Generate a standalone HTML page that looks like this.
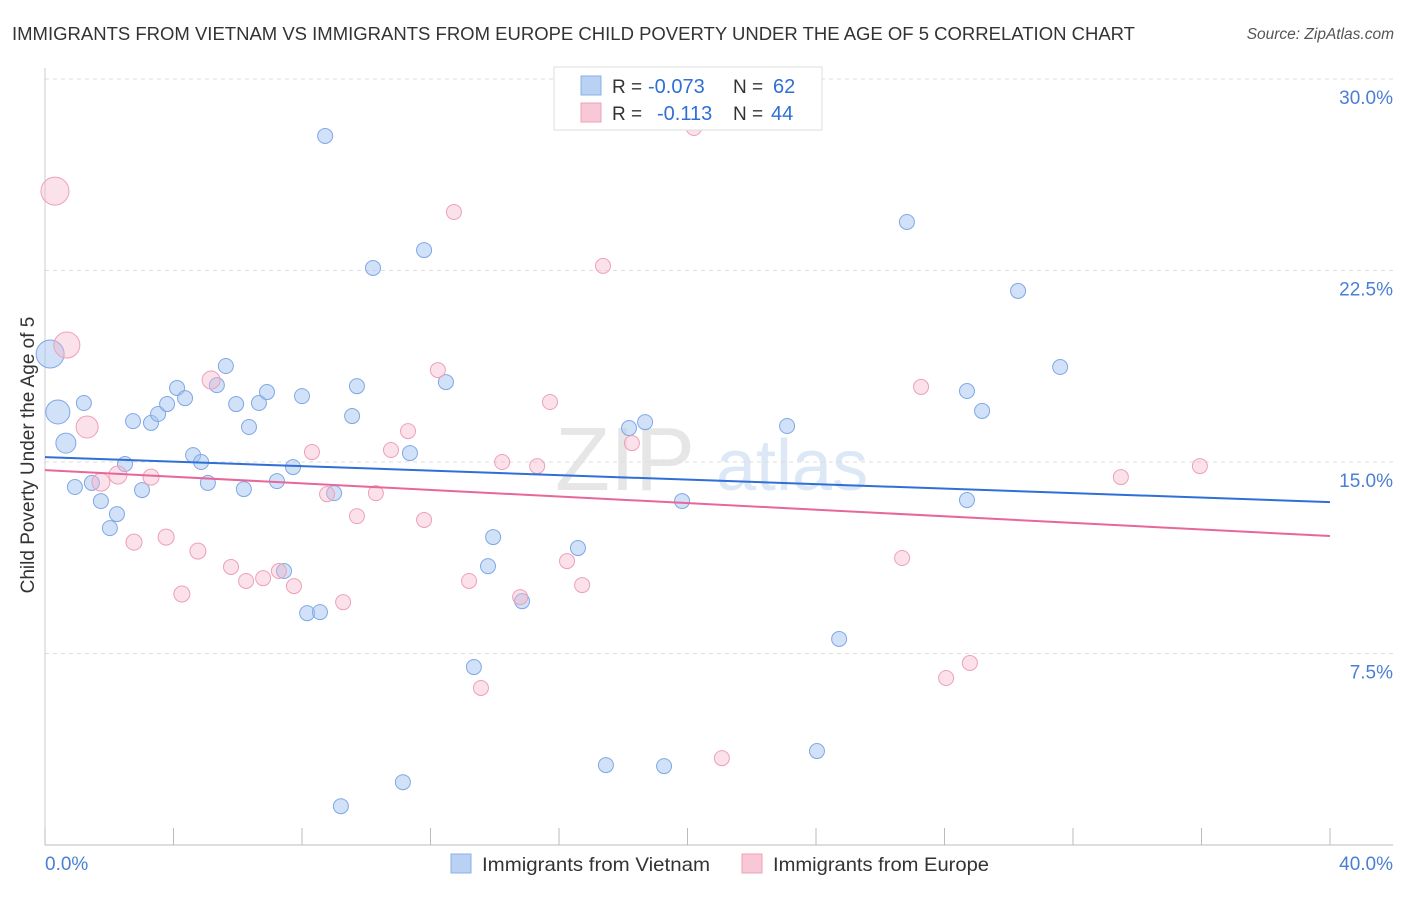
<!DOCTYPE html>
<html><head><meta charset="utf-8">
<style>
body{margin:0;background:#fff;font-family:"Liberation Sans",sans-serif;}
svg text{font-family:"Liberation Sans",sans-serif;}
</style></head>
<body>
<svg id="chart" width="1406" height="892" viewBox="0 0 1406 892" xmlns="http://www.w3.org/2000/svg">
<text x="12" y="40" font-size="18" fill="#333" textLength="1123" lengthAdjust="spacingAndGlyphs">IMMIGRANTS FROM VIETNAM VS IMMIGRANTS FROM EUROPE CHILD POVERTY UNDER THE AGE OF 5 CORRELATION CHART</text>
<text x="1394" y="39" font-size="15.5" fill="#555" font-style="italic" text-anchor="end">Source: ZipAtlas.com</text>
<g>
<text x="555" y="490" font-size="90" fill="#e6e6e6" font-family="Liberation Serif">ZIP</text>
<text x="716" y="490" font-size="72" fill="#dce8f6">atlas</text>
</g>
<g id="grid"></g>
<g id="axes"></g>
<g id="points"></g>
<g id="trends"></g>
<text x="34" y="455" font-size="19" fill="#333" text-anchor="middle" transform="rotate(-90 34 455)">Child Poverty Under the Age of 5</text>
<text x="45" y="870" font-size="19" fill="#4a7fd4">0.0%</text>
<text x="1393" y="870" font-size="19" fill="#4a7fd4" text-anchor="end">40.0%</text>
<g>
<rect x="554" y="67" width="268" height="63" fill="#fff" stroke="#ddd"/>
<rect x="581" y="76" width="20" height="19" fill="#b9d1f3" stroke="#8ab0e8"/>
<rect x="581" y="103" width="20" height="19" fill="#f9c8d6" stroke="#f0a0b8"/>
<text x="612" y="93" font-size="19" fill="#333">R =</text>
<text x="648" y="93" font-size="20" fill="#2f6fd6">-0.073</text>
<text x="733" y="93" font-size="19" fill="#333">N =</text>
<text x="773" y="93" font-size="20" fill="#2f6fd6">62</text>
<text x="612" y="120" font-size="19" fill="#333">R =</text>
<text x="657" y="120" font-size="20" fill="#2f6fd6">-0.113</text>
<text x="733" y="120" font-size="19" fill="#333">N =</text>
<text x="771" y="120" font-size="20" fill="#2f6fd6">44</text>
</g>
<g>
<rect x="451" y="854" width="20" height="19" fill="#b9d1f3" stroke="#8ab0e8"/>
<text x="482" y="871" font-size="19.5" fill="#333" textLength="228" lengthAdjust="spacingAndGlyphs">Immigrants from Vietnam</text>
<rect x="742" y="854" width="20" height="19" fill="#f9c8d6" stroke="#f0a0b8"/>
<text x="773" y="871" font-size="19.5" fill="#333" textLength="216" lengthAdjust="spacingAndGlyphs">Immigrants from Europe</text>
</g>
</svg>
<script>
const yTicks = [7.5, 15, 22.5, 30];
const yTickLabels = ["7.5%", "15.0%", "22.5%", "30.0%"];
const xTicks = [0,4,8,12,16,20,24,28,32,36,40];
const vietX = [0.16,0.40,0.65,0.93,1.21,1.46,1.74,2.02,2.24,2.49,2.74,3.02,3.30,3.52,3.80,4.11,4.36,4.61,4.86,5.07,5.35,5.63,5.95,6.19,6.35,6.66,6.91,7.22,7.44,7.72,8.00,8.16,8.56,8.72,9.00,9.21,9.56,9.71,10.21,11.14,11.36,11.80,12.48,13.35,13.79,13.95,14.85,16.59,17.46,18.18,18.68,19.27,19.83,23.10,24.03,24.72,26.83,28.70,28.70,29.17,30.29,31.60];
const vietY = [19.23,16.96,15.74,14.02,17.31,14.18,13.47,12.41,12.96,14.92,16.60,13.90,16.53,16.88,17.27,17.90,17.50,15.27,15.00,14.18,18.01,18.76,17.27,13.94,16.37,17.31,17.74,14.25,10.73,14.80,17.58,9.08,9.12,27.77,13.78,1.52,16.80,17.97,22.60,2.46,15.35,23.30,18.13,6.97,10.92,12.06,9.55,11.63,3.13,16.33,16.56,3.09,13.47,16.41,3.68,8.07,24.40,17.78,13.51,17.00,21.70,18.72];
const vietWeight = [14,12,10];
const eurX = [0.31,0.68,1.31,1.74,2.27,2.77,3.30,3.77,4.26,4.76,5.17,5.79,6.26,6.79,7.28,7.75,8.31,8.78,9.28,9.71,10.30,10.77,11.30,11.80,12.23,12.73,13.20,13.57,14.23,14.79,15.32,15.72,16.25,16.72,17.37,18.27,20.20,21.07,26.68,27.27,28.05,28.79,33.49,35.95];
const eurY = [25.61,19.58,16.37,14.21,14.49,11.86,14.41,12.06,9.83,11.51,18.21,10.89,10.34,10.45,10.73,10.14,15.39,13.74,9.51,12.88,13.78,15.47,16.21,12.73,18.60,24.79,10.34,6.15,15.00,9.71,14.84,17.35,11.12,10.18,22.68,15.74,28.08,3.40,11.24,17.94,6.54,7.13,14.41,14.84];
const eurWeight = [14,13,11,9,9,8,8,8,8,8,9];
const vietTrend = [15.19, 13.43];
const eurTrend = [14.68, 12.10];

const NS = "http://www.w3.org/2000/svg";
const xs = v => 45 + v/40*1285;
const ys = v => 79 + (30-v)/30*766;
function mk(tag, attrs, parent){const e=document.createElementNS(NS,tag);for(const k in attrs)e.setAttribute(k,attrs[k]);document.getElementById(parent).appendChild(e);return e;}

yTicks.forEach((t,i)=>{
  const l = mk('line',{x1:45,x2:1393,y1:ys(t),y2:ys(t),stroke:'#ddd','stroke-dasharray':'4,4'},'grid');
  
  
  const tx = mk('text',{x:1393,y:ys(t)+25,'font-size':19,fill:'#4a7fd4','text-anchor':'end'},'grid');
  tx.textContent = yTickLabels[i];
  
  
});
const ax = mk('line',{x1:45,x2:1393,y1:845,y2:845,stroke:'#bbb'},'axes');


const ay = mk('line',{x1:45,x2:45,y1:68,y2:845,stroke:'#ccc'},'axes');


xTicks.forEach(t=>{
  const l = mk('line',{x1:xs(t),x2:xs(t),y1:828,y2:845,stroke:'#bbb'},'axes');
  
  
});
vietX.forEach((x,i)=>{
  const c = mk('circle',{cx:xs(x),cy:ys(vietY[i]),r:vietWeight[i]||7.5,fill:'rgba(164,196,240,0.5)',stroke:'#7fa8e6','stroke-width':1},'points');
  
  
});
eurX.forEach((x,i)=>{
  const c = mk('circle',{cx:xs(x),cy:ys(eurY[i]),r:eurWeight[i]||7.5,fill:'rgba(245,180,200,0.4)',stroke:'#eea0b8','stroke-width':1},'points');
  
  
});
const tv = mk('line',{x1:xs(0),x2:xs(40),y1:ys(vietTrend[0]),y2:ys(vietTrend[1]),stroke:'#2f6fd6','stroke-width':2},'trends');


const te = mk('line',{x1:xs(0),x2:xs(40),y1:ys(eurTrend[0]),y2:ys(eurTrend[1]),stroke:'#e8679a','stroke-width':2},'trends');


</script>
</body></html>
